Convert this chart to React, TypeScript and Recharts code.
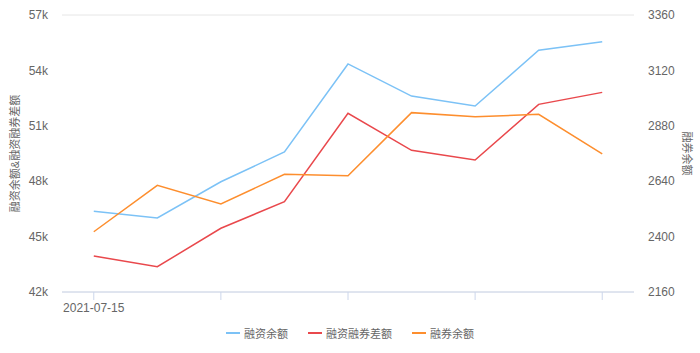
import React from "react";
import {
  CartesianGrid,
  Legend,
  Line,
  LineChart,
  XAxis,
  YAxis,
} from "recharts";

const dates = [
  "2021-07-15",
  "2021-07-16",
  "2021-07-19",
  "2021-07-20",
  "2021-07-21",
  "2021-07-22",
  "2021-07-23",
  "2021-07-26",
  "2021-07-27",
];

// 融资余额 (left axis)
const financeBalance = [46370, 46010, 47970, 49580, 54350, 52610, 52070, 55090, 55550];
// 融资融券差额 (left axis)
const financeDiff = [43950, 43370, 45450, 46890, 51680, 49670, 49150, 52160, 52810];
// 融券余额 (right axis)
const securitiesBalance = [2421, 2622, 2541, 2670, 2664, 2937, 2919, 2930, 2758];

const leftTicks = [42000, 45000, 48000, 51000, 54000, 57000];
const rightTicks = [2160, 2400, 2640, 2880, 3120, 3360];

const seriesNames = ["融资余额", "融资融券差额", "融券余额"];
const seriesColors = ["#7cc2f6", "#e9484c", "#fd8e2e"];

const FONT = "'Liberation Sans', 'Noto Sans CJK SC', sans-serif";

const chartData = dates.map((date, i) => ({
  date,
  finance: financeBalance[i],
  diff: financeDiff[i],
  securities: securitiesBalance[i],
}));

function AxisName(props: any) {
  const { viewBox, value, side } = props;
  if (!viewBox) return null;
  const cx = side === "left" ? viewBox.x + 15 : viewBox.x + viewBox.width - 13;
  const cy = viewBox.y + viewBox.height / 2;
  const angle = side === "left" ? -90 : 90;
  return (
    <text
      x={cx}
      y={cy}
      transform={`rotate(${angle}, ${cx}, ${cy})`}
      textAnchor="middle"
      dominantBaseline="central"
      fill="#666"
      fontSize={11}
      fontFamily={FONT}
    >
      {value}
    </text>
  );
}

function LegendContent() {
  return (
    <div
      style={{
        display: "flex",
        justifyContent: "center",
        alignItems: "center",
        gap: 20,
        fontFamily: FONT,
        fontSize: 11,
        color: "#666",
        height: 20,
      }}
    >
      {seriesNames.map((name, i) => (
        <div key={name} style={{ display: "flex", alignItems: "center", gap: 4 }}>
          <span
            style={{
              display: "inline-block",
              width: 14,
              height: 2,
              background: seriesColors[i],
            }}
          />
          <span>{name}</span>
        </div>
      ))}
    </div>
  );
}

export default function App() {
  return (
    <div
      style={{
        position: "absolute",
        left: 0,
        top: 0,
        width: 700,
        height: 353,
        background: "#fff",
      }}
    >
      <LineChart
        width={700}
        height={353}
        data={chartData}
        margin={{ top: 15, right: 0, left: 0, bottom: 10 }}
      >
        <CartesianGrid stroke="#e6e6e6" vertical={false} />
        <XAxis
          dataKey="date"
          scale="band"
          interval={1}
          height={31}
          stroke="#ccd6eb"
          tickSize={8}
          tickMargin={3}
          tickFormatter={(v) => (v === dates[0] ? v : "")}
          tick={{ fontSize: 12, fill: "#666", fontFamily: FONT }}
        />
        <YAxis
          yAxisId="left"
          domain={[42000, 57000]}
          ticks={leftTicks}
          width={62}
          axisLine={false}
          tickLine={false}
          tickSize={6}
          tickMargin={8}
          tickFormatter={(v) => `${v / 1000}k`}
          tick={{ fontSize: 12, fill: "#666", fontFamily: FONT }}
          label={<AxisName value="融资余额&融资融券差额" side="left" />}
        />
        <YAxis
          yAxisId="right"
          orientation="right"
          domain={[2160, 3360]}
          ticks={rightTicks}
          width={66}
          axisLine={false}
          tickLine={false}
          tickSize={6}
          tickMargin={8}
          tick={{ fontSize: 12, fill: "#666", fontFamily: FONT }}
          label={<AxisName value="融券余额" side="right" />}
        />
        <Legend verticalAlign="bottom" content={<LegendContent />} />
        <Line
          yAxisId="left"
          dataKey="finance"
          name={seriesNames[0]}
          stroke={seriesColors[0]}
          strokeWidth={1.5}
          dot={false}
          isAnimationActive={false}
        />
        <Line
          yAxisId="left"
          dataKey="diff"
          name={seriesNames[1]}
          stroke={seriesColors[1]}
          strokeWidth={1.5}
          dot={false}
          isAnimationActive={false}
        />
        <Line
          yAxisId="right"
          dataKey="securities"
          name={seriesNames[2]}
          stroke={seriesColors[2]}
          strokeWidth={1.5}
          dot={false}
          isAnimationActive={false}
        />
      </LineChart>
    </div>
  );
}
